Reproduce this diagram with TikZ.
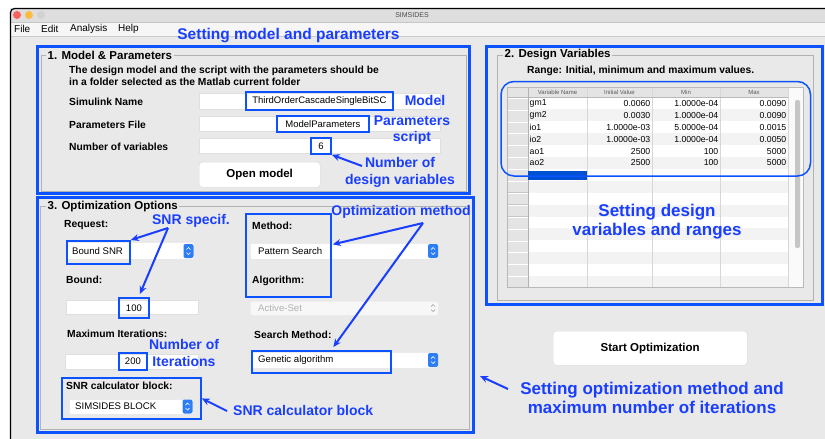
\documentclass[tikz,border=0pt]{standalone}
\usepackage{fontspec}
\setmainfont{Liberation Sans}
\usetikzlibrary{arrows.meta,calc}
\definecolor{annblue}{RGB}{25,62,255}
\definecolor{boxblue}{RGB}{12,82,255}
\definecolor{winbg}{RGB}{233,233,233}
\definecolor{menubg}{RGB}{246,246,246}
\definecolor{titlebg}{RGB}{222,222,222}
\definecolor{grpline}{RGB}{178,178,178}
\definecolor{stepblue}{RGB}{45,125,245}
\definecolor{selblue}{RGB}{0,80,210}
\definecolor{rowgray}{RGB}{243,243,243}
\definecolor{hdrgray}{RGB}{228,228,228}
\definecolor{gridgray}{RGB}{215,215,215}
\definecolor{tlred}{RGB}{252,96,91}
\definecolor{tlyel}{RGB}{253,188,64}
\begin{document}
\begin{tikzpicture}[x=1pt,y=-1pt,
  ann/.style={text=annblue,font=\bfseries\fontsize{14}{16.5}\selectfont,align=center,inner sep=0},
  annbig/.style={ann,font=\bfseries\fontsize{17}{19.5}\selectfont},
  annbox/.style={draw=boxblue,line width=1.8,inner sep=0,anchor=north west},
  annarrow/.style={draw=annblue,line width=2,-{Stealth[length=8,width=7]}},
  uilbl/.style={font=\bfseries\fontsize{10.3}{12}\selectfont,anchor=west,inner sep=0},
  grptitle/.style={font=\bfseries\fontsize{11.5}{13}\selectfont,anchor=west,inner sep=1.5,fill=winbg},
  note/.style={font=\bfseries\fontsize{10.3}{11.5}\selectfont,anchor=north west,align=left,inner sep=0},
  field/.style={fill=white,draw=gray!25,line width=0.5,inner sep=0,anchor=north west},
  fieldtxt/.style={font=\fontsize{9.5}{11}\selectfont,inner sep=0},
  ddtxt/.style={font=\fontsize{9.6}{11}\selectfont,anchor=west,inner sep=0},
  button/.style={fill=white,draw=gray!30,rounded corners=3,inner sep=0,anchor=north west,font=\bfseries\fontsize{11.5}{13}\selectfont},
  grpbox/.style={draw=grpline,line width=0.7},
  panel/.style={draw=boxblue,line width=3},
  menu/.style={font=\fontsize{10}{12}\selectfont,anchor=west,inner sep=0},
  cell/.style={font=\fontsize{8.7}{10}\selectfont,inner sep=0},
  hdr/.style={font=\fontsize{6}{7}\selectfont,text=gray!70!black,inner sep=0},
  stepper/.pic={
    \fill[stepblue,rounded corners=2] (-5,-7) rectangle (5,7);
    \draw[white,line width=0.7] (-2,-1.5) -- (0,-3.5) -- (2,-1.5) (-2,1.5) -- (0,3.5) -- (2,1.5);
  },
  graystep/.pic={
    \draw[gray!70,line width=0.7] (-2,-1.5) -- (0,-3.5) -- (2,-1.5) (-2,1.5) -- (0,3.5) -- (2,1.5);
  }]
\useasboundingbox (0,0) rectangle (825,439);
% ---------- window ----------
\fill[white] (0,0) rectangle (825,439);
\fill[winbg] (10,8) rectangle (825,439);
\fill[titlebg] (10,8) rectangle (825,22);
\fill[menubg] (10,22) rectangle (825,36);
\draw[gray!45,line width=0.6] (10,22) -- (825,22);
\draw[gray!40,line width=0.6] (10,36) -- (825,36);
\draw[black,line width=1.2,rounded corners=4] (10.5,439) -- (10.5,8.5) -- (830,8.5);
\fill[tlred] (17,15) circle (4);
\fill[tlyel] (29,15) circle (4);
\fill[gray!35] (41,15) circle (4);
\node[font=\fontsize{7}{8}\selectfont,text=gray!60!black,inner sep=0] (wtitle) at (412,15) {SIMSIDES};
\node[menu] (mfile) at (14,29) {File};
\node[menu] (medit) at (41,29) {Edit};
\node[menu] (manal) at (70,29) {Analysis};
\node[menu] (mhelp) at (118,29) {Help};
% ---------- panel 1 ----------
\draw[grpbox] (41,55) rectangle (466,191);
\node[grptitle] (t1) at (46,55) {1. Model \& Parameters};
\node[note] (note1) at (69,66) {The design model and the script with the parameters should be\\in a folder selected as the Matlab current folder};
\node[uilbl] (lsim) at (69,102) {Simulink Name};
\node[uilbl] (lpar) at (69,125) {Parameters File};
\node[uilbl] (lnum) at (69,147) {Number of variables};
\node[field,minimum width=241,minimum height=16] (f1) at (199,93) {};
\node[field,minimum width=241,minimum height=15] (f2) at (199,116) {};
\node[field,minimum width=241,minimum height=15] (f3) at (199,138) {};
\node[annbox,minimum width=147,minimum height=18,fieldtxt] (b1) at (245,91) {ThirdOrderCascadeSingleBitSC};
\node[annbox,minimum width=92,minimum height=16,fieldtxt] (b2) at (276,115) {ModelParameters};
\node[annbox,minimum width=20,minimum height=16,fieldtxt] (b3) at (310,137) {6};
\node[button,minimum width=121,minimum height=25] (open) at (199,162) {Open model};
\node[ann] (lmodel) at (425,100) {Model};
\node[ann] (lparam) at (412,130) {Parameters\\script};
\node[ann] (lnumv) at (400,172.5) {Number of\\design variables};
\coordinate (nvA) at (362,166);
\draw[annarrow] (nvA) -- (b3.south east);
\draw[panel] (37,46) rectangle (469,193);
% ---------- panel 3 ----------
\draw[grpbox] (40,206) rectangle (469,429);
\node[grptitle] (t3) at (46,207) {3. Optimization Options};
\node[uilbl] (lreq) at (64,225) {Request:};
\node[field,draw=gray!20,rounded corners=2,minimum width=128,minimum height=17] (dd1) at (66,242) {};
\pic at (188.5,251) {stepper};
\node[ddtxt] (tbsnr) at (72,251) {Bound SNR};
\node[annbox,minimum width=63,minimum height=23] (snrb) at (66,240) {};
\node[uilbl] (lbound) at (66,280) {Bound:};
\node[field,minimum width=132,minimum height=14] (fbound) at (66,300) {};
\node[annbox,minimum width=30,minimum height=20,fieldtxt] (b100) at (118,297) {100};
\node[uilbl] (lmax) at (67,334) {Maximum Iterations:};
\node[field,minimum width=133,minimum height=15] (fmax) at (65,354) {};
\node[annbox,minimum width=28,minimum height=17,fieldtxt] (b200) at (118,352) {200};
\node[ann] (lniter) at (184,353) {Number of\\Iterations};
\node[ann] (lsnrsp) at (191,221) {SNR specif.};
\coordinate (snrA) at (168,228);
\draw[annarrow] (snrA) -- (snrb.north east);
\draw[annarrow] (snrA) -- ($(b100.north)+(6,-3)$);
% SNR calc block
\node[annbox,minimum width=139,minimum height=41] (calcbox) at (61,377) {};
\node[uilbl] (lcalc) at (66,386) {SNR calculator block:};
\node[field,draw=gray!20,rounded corners=2,minimum width=124,minimum height=15] (dd5) at (69,399) {};
\pic at (187.5,406.5) {stepper};
\node[ddtxt] (tsims) at (75,406.5) {SIMSIDES BLOCK};
\node[ann,anchor=west] (lcalcann) at (233,410) {SNR calculator block};
\coordinate (calcA) at (227,411);
\draw[annarrow] (calcA) -- (calcbox.east);
% right column
\node[uilbl] (lmeth) at (252,226) {Method:};
\node[field,draw=gray!20,rounded corners=2,minimum width=188,minimum height=16] (dd2) at (250,243) {};
\pic at (433,251) {stepper};
\node[ddtxt] (tpat) at (258,251) {Pattern Search};
\node[uilbl] (lalg) at (252,281) {Algorithm:};
\node[field,draw=gray!15,fill=gray!6,rounded corners=2,minimum width=188,minimum height=14] (dd3) at (250,301) {};
\pic at (433,308) {graystep};
\node[ddtxt,text=gray!60] (tact) at (258,308) {Active-Set};
\node[uilbl] (lsm) at (254,335) {Search Method:};
\node[field,draw=gray!20,rounded corners=2,minimum width=188,minimum height=16] (dd4) at (250,352) {};
\pic at (433,360) {stepper};
\node[ddtxt] (tgen) at (258,360) {Genetic algorithm};
\node[annbox,minimum width=85,minimum height=83] (methbox) at (245,213) {};
\node[annbox,minimum width=139,minimum height=22] (genbox) at (251,350) {};
\node[ann] (lopt) at (401,212) {Optimization method};
\coordinate (optA) at (423,223);
\draw[annarrow] (optA) -- ($(methbox.east)+(1,-11)$);
\draw[annarrow] (optA) -- ($(genbox.north)+(12,-3)$);
\draw[panel] (37,197) rectangle (473,432);
% ---------- panel 2 ----------
\draw[grpbox] (497,55) rectangle (813,300);
\node[grptitle] (t2) at (503,55) {2. Design Variables};
\node[note] (note2) at (527,66) {Range: Initial, minimum and maximum values.};
\begin{scope}
\clip (507,87) rectangle (803,287);
\fill[white] (507,87) rectangle (803,287);
\foreach \i in {0,...,15}{
  \pgfmathsetmacro\yt{97.5+11.9*\i}
  \ifodd\i \fill[rowgray] (528,\yt) rectangle (788,\yt+11.9); \fi
  \fill[hdrgray] (507,\yt) rectangle (528,\yt+11.9);
  \draw[gray!45,line width=0.5] (507,\yt+11.9) -- (528,\yt+11.9);
  \draw[white,line width=0.5] (507.5,\yt+0.5) -- (527.5,\yt+0.5);
}
\fill[hdrgray] (507,87) rectangle (788,97.5);
\fill[white!96!gray] (788,87) rectangle (803,287);
\foreach \xx in {528,587,652,720,788}{\draw[gridgray,line width=0.5] (\xx,87) -- (\xx,287);}
\draw[gray!55,line width=0.6] (507,97.5) -- (788,97.5);
\draw[gray!60,line width=0.7] (528,87) -- (528,287);
\fill[selblue] (528,170.5) rectangle (587,180);
\fill[gray!45,rounded corners=2] (795,100) rectangle (800,248);
\end{scope}
\draw[gray!55,line width=0.6] (507,87) rectangle (803,287);
\node[hdr] (h1) at (557.5,92.5) {Variable Name};
\node[hdr] (h2) at (619.5,92.5) {Initial Value};
\node[hdr] (h3) at (686,92.5) {Min};
\node[hdr] (h4) at (754,92.5) {Max};
\foreach \n/\a/\b/\c [count=\k from 0] in {gm1/0.0060/1.0000e-04/0.0090,gm2/0.0030/1.0000e-04/0.0090,io1/1.0000e-03/5.0000e-04/0.0015,io2/1.0000e-03/1.0000e-04/0.0050,ao1/2500/100/5000,ao2/2500/100/5000}{
  \pgfmathsetmacro\yc{97.5+11.9*\k+6}
  \node[cell,anchor=west] at (529.5,\yc) {\n};
  \node[cell,anchor=east] at (650.5,\yc) {\a};
  \node[cell,anchor=east] at (718.5,\yc) {\b};
  \node[cell,anchor=east] at (786.5,\yc) {\c};
}
\draw[boxblue,line width=1.5,rounded corners=13] (501,81.5) rectangle (810.5,176);
\node[annbig] (lsetdv) at (657,221.5) {Setting design\\variables and ranges};
\draw[panel] (486,46) rectangle (822,304);
% ---------- bottom right ----------
\node[button,minimum width=194,minimum height=34] (start) at (553,331) {Start Optimization};
\node[annbig] (lsetopt) at (652,398) {Setting optimization method and\\maximum number of iterations};
\coordinate (soA) at (508,389);
\coordinate (soB) at (480,376);
\draw[annarrow] (soA) -- (soB);
% ---------- top label ----------
\node[ann,font=\bfseries\fontsize{15.5}{17}\selectfont] (lsetmp) at (288.5,36) {Setting model and parameters};
\end{tikzpicture}
\end{document}
